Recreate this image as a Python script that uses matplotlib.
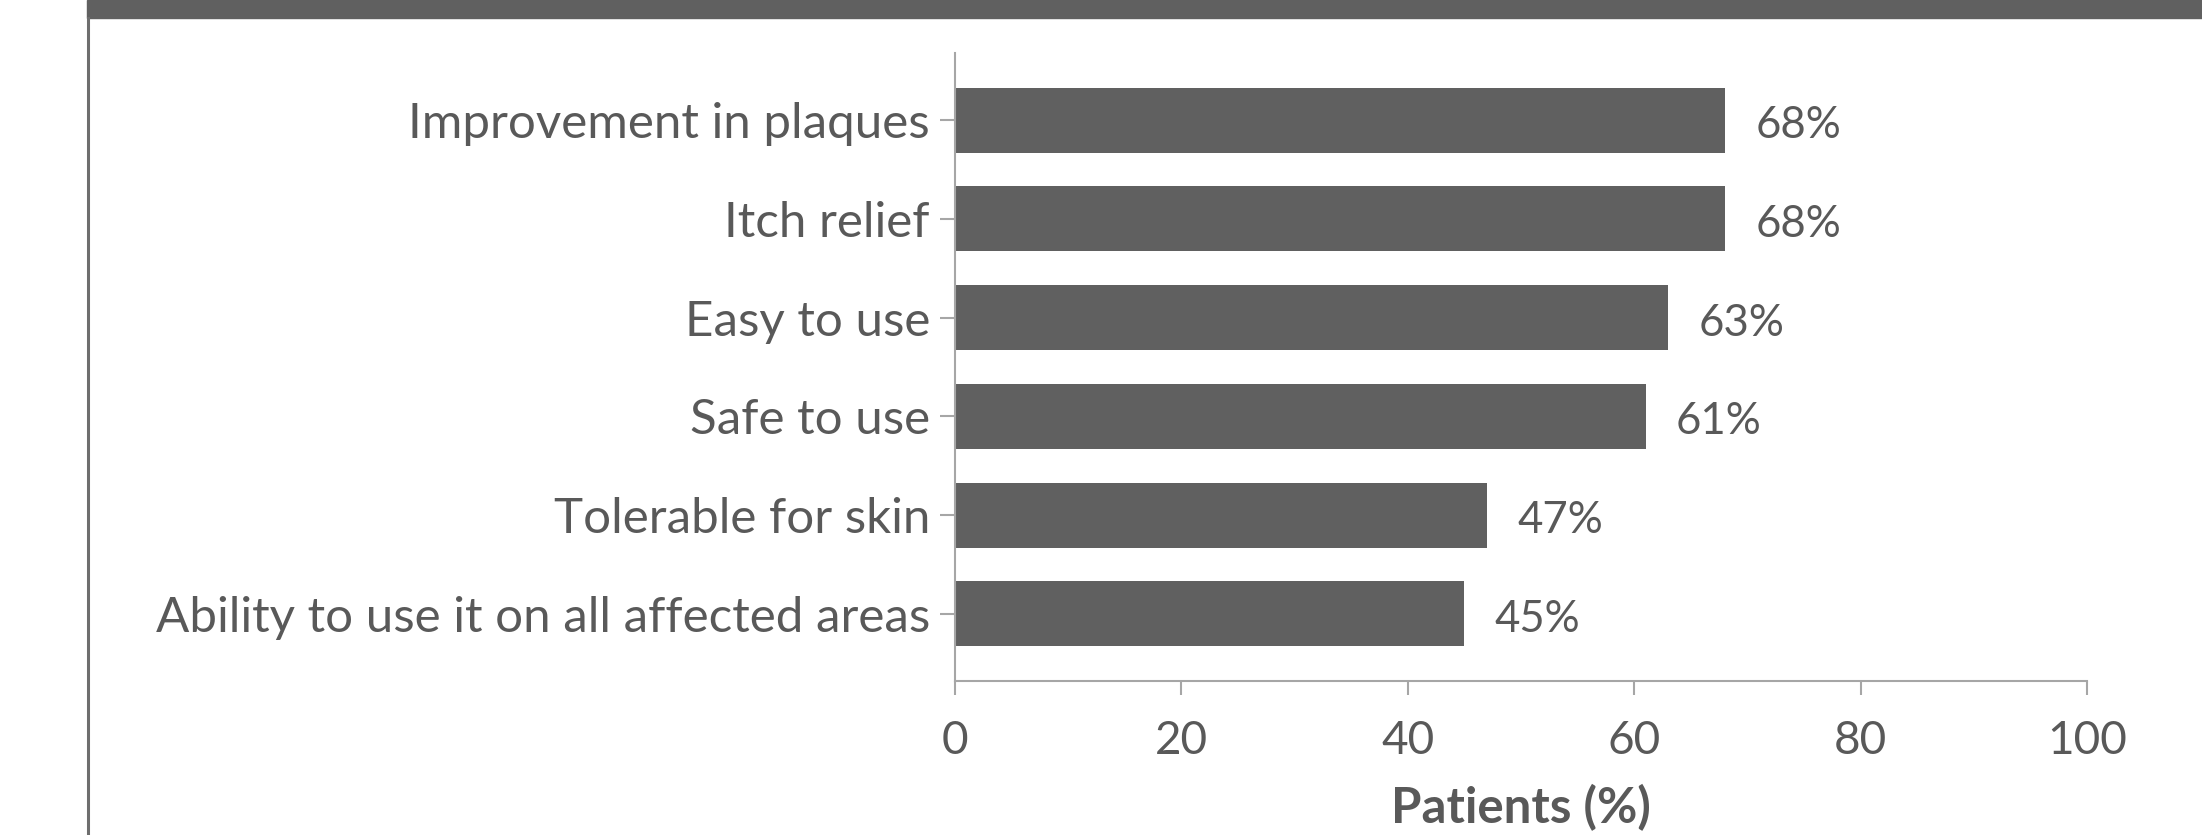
import matplotlib
matplotlib.use("Agg")
import matplotlib.pyplot as plt
from matplotlib.lines import Line2D
from matplotlib.patches import Rectangle

categories = ["Improvement in plaques", "Itch relief", "Easy to use", "Safe to use",
              "Tolerable for skin", "Ability to use it on all affected areas"]
values = [68, 68, 63, 61, 47, 45]
value_labels = ["68%", "68%", "63%", "61%", "47%", "45%"]
xticks = [0, 20, 40, 60, 80, 100]
xlabel = "Patients (%)"

BAR = "#606060"
TEXT = "#595959"
AXIS = "#a6a6a6"

plt.rcParams['font.family'] = ['Lato', 'DejaVu Sans']

fig = plt.figure(figsize=(22.02, 8.35), dpi=100)
ax = fig.add_axes([955/2202, 1-681/835, (2087-955)/2202, (681-53)/835])

ypos = list(range(len(categories)))
ax.barh(ypos, values, height=0.66, color=BAR)
ax.set_ylim(len(categories) - 1 + 0.68, -0.68)
ax.set_xlim(0, 100)
ax.set_yticks(ypos)
ax.set_yticklabels(categories, fontsize=35.5, color=TEXT)
ax.set_xticks(xticks)
ax.set_xticklabels([str(t) for t in xticks], fontsize=33, color=TEXT)
ax.tick_params(axis='y', length=11, width=1.5, color=AXIS, pad=7)
ax.tick_params(axis='x', length=10, width=1.5, color=AXIS, pad=18)
for s in ['top', 'right']:
    ax.spines[s].set_visible(False)
for s in ['left', 'bottom']:
    ax.spines[s].set_color(AXIS)
    ax.spines[s].set_linewidth(1.5)
ax.set_xlabel(xlabel, fontsize=35.5, fontweight='bold', color=TEXT, labelpad=16)

for y, v, lab in zip(ypos, values, value_labels):
    ax.annotate(lab, (v, y), xytext=(22, -4), textcoords='offset points',
                va='center', ha='left', fontsize=31.5, color=TEXT)

# decorative frame: top band and left rule
fig.patches.append(Rectangle((87/2202, 1-18/835), 1-87/2202, 18/835,
                             transform=fig.transFigure, color=BAR, zorder=0))
fig.lines.append(Line2D([88/2202, 88/2202], [0, 1-18/835], transform=fig.transFigure,
                        color="#6e6e6e", linewidth=2.2))

fig.savefig("out.png", dpi=100)
